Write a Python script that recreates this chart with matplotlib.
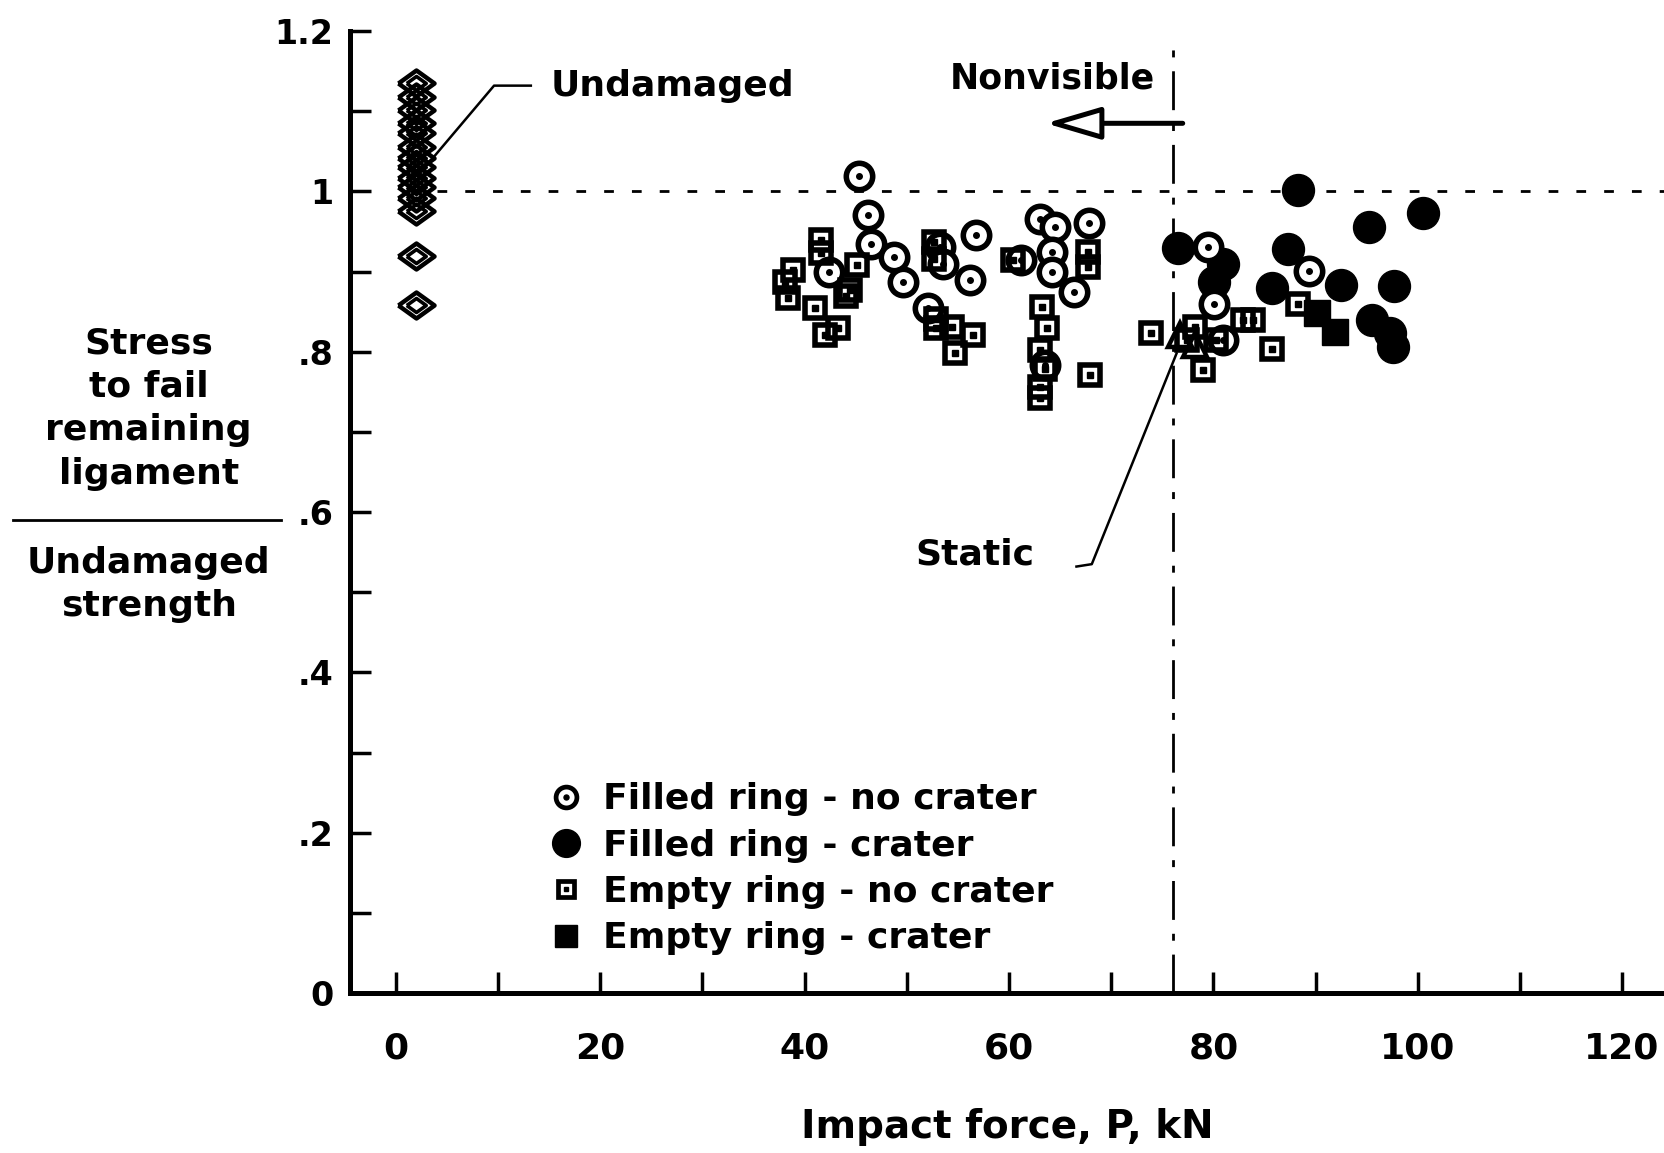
import matplotlib.pyplot as plt
from matplotlib.lines import Line2D
from matplotlib.ticker import MultipleLocator

# Undamaged specimens (plotted in a column near P = 2 kN)
undamaged_x = [2.0] * 14
undamaged_y = [1.135, 1.118, 1.101, 1.086, 1.073, 1.056, 1.042, 1.030,
               1.017, 1.005, 0.992, 0.976, 0.920, 0.858]

# Filled ring - no crater
fr_nc_x = [45.3, 46.2, 46.5, 42.4, 48.7, 49.6, 56.8, 53.2, 53.5, 56.2, 52.1,
           63.0, 64.5, 67.8, 64.2, 64.2, 66.4, 61.2, 63.5, 79.5, 80.1, 80.9, 89.4]
fr_nc_y = [1.019, 0.970, 0.935, 0.900, 0.918, 0.887, 0.946, 0.931, 0.910, 0.889, 0.854,
           0.966, 0.956, 0.960, 0.925, 0.900, 0.875, 0.914, 0.783, 0.931, 0.860, 0.815, 0.901]

# Filled ring - crater
fr_c_x = [76.5, 80.9, 80.1, 85.7, 88.3, 95.2, 100.5, 87.3, 92.5, 97.7, 95.5, 97.3, 97.6]
fr_c_y = [0.929, 0.910, 0.887, 0.879, 1.002, 0.956, 0.973, 0.928, 0.883, 0.882, 0.839, 0.823, 0.806]

# Empty ring - no crater
er_nc_x = [41.6, 41.6, 38.9, 38.1, 38.4, 45.1, 44.4, 44.0, 41.0, 42.0, 43.3,
           52.7, 52.7, 52.9, 52.9, 54.4, 56.5, 54.7,
           60.4, 67.7, 67.7, 63.2, 63.7, 63.0, 63.5, 63.0, 63.0, 67.9,
           73.9, 78.2, 82.9, 83.9, 80.3, 79.0, 85.7, 77.4, 88.3]
er_nc_y = [0.939, 0.923, 0.902, 0.887, 0.867, 0.908, 0.877, 0.869, 0.854, 0.821, 0.829,
           0.937, 0.916, 0.841, 0.829, 0.831, 0.821, 0.798,
           0.914, 0.925, 0.906, 0.856, 0.829, 0.802, 0.779, 0.756, 0.742, 0.771,
           0.823, 0.831, 0.839, 0.839, 0.815, 0.777, 0.804, 0.815, 0.859]

# Empty ring - crater
er_c_x = [90.1, 91.9]
er_c_y = [0.848, 0.825]

# Static tests
static_x = [76.7, 78.2]
static_y = [0.821, 0.808]

x_ticks = [0, 20, 40, 60, 80, 100, 120]
y_ticks = [0, 0.2, 0.4, 0.6, 0.8, 1.0, 1.2]
y_ticklabels = ['0', '.2', '.4', '.6', '.8', '1', '1.2']
threshold_p = 76   # nonvisible damage limit, kN

plt.rcParams['font.family'] = 'DejaVu Sans'
plt.rcParams['font.weight'] = 'bold'

fig = plt.figure(figsize=(16.65, 11.53), dpi=100)
ax = fig.add_axes([0.2102, 0.1388, 0.7898, 0.8342])
ax.set_xlim(-4.5, 124.2)
ax.set_ylim(0, 1.2)

for s in ['top', 'right']:
    ax.spines[s].set_visible(False)
for s in ['left', 'bottom']:
    ax.spines[s].set_linewidth(3.6)

ax.set_xticks(x_ticks)
ax.xaxis.set_minor_locator(MultipleLocator(10))
ax.set_yticks(y_ticks)
ax.set_yticklabels(y_ticklabels)
ax.yaxis.set_minor_locator(MultipleLocator(0.1))
ax.tick_params(which='both', direction='in', length=15, width=2.5)
ax.tick_params(axis='y', which='major', pad=12, labelsize=24)
ax.tick_params(axis='x', which='major', pad=28, labelsize=26)

# reference lines
ax.plot([4, 124.2], [1.0, 1.0], color='k', lw=2, ls=(0, (3.5, 6.5)), zorder=1)
ax.plot([threshold_p, threshold_p], [0, 1.19], color='k', lw=2,
        ls=(0, (14, 5, 2.5, 5)), zorder=1)

# undamaged: double diamonds
diamond = [(-1, 0), (0, 0.72), (1, 0), (0, -0.72), (-1, 0)]
ax.plot(undamaged_x, undamaged_y, ls='none', marker=diamond, ms=26,
        mfc='none', mec='k', mew=3.2, zorder=3)
ax.plot(undamaged_x, undamaged_y, ls='none', marker=diamond, ms=14,
        mfc='none', mec='k', mew=2.6, zorder=3)

# filled ring - crater
ax.plot(fr_c_x, fr_c_y, ls='none', marker='o', ms=23, color='k', zorder=3)
# filled ring - no crater
ax.plot(fr_nc_x, fr_nc_y, ls='none', marker='o', ms=19, mfc='white',
        mec='k', mew=4, zorder=4)
ax.plot(fr_nc_x, fr_nc_y, ls='none', marker='o', ms=4, color='k', zorder=4)
# empty ring - no crater
ax.plot(er_nc_x, er_nc_y, ls='none', marker='s', ms=15, mfc='none',
        mec='k', mew=4, zorder=5)
ax.plot(er_nc_x, er_nc_y, ls='none', marker='s', ms=3.8, color='k', zorder=5)
# empty ring - crater
ax.plot(er_c_x, er_c_y, ls='none', marker='s', ms=19, color='k', zorder=5)
# static
ax.plot(static_x, static_y, ls='none', marker='^', ms=17, mfc='none',
        mec='k', mew=3.2, zorder=6)

# annotations
ax.text(54.2, 1.129, 'Nonvisible', fontsize=25, ha='left', va='baseline')
ax.annotate('', xy=(63.6, 1.085), xytext=(77.0, 1.085),
            arrowprops=dict(arrowstyle='-|>,head_length=1.7,head_width=0.5',
                            mutation_scale=20, lw=3.6, fc='white', ec='k',
                            shrinkA=0, shrinkB=0))
ax.text(15.1, 1.119, 'Undamaged', fontsize=26, ha='left', va='baseline')
ax.plot([13.2, 9.6, 3.3], [1.132, 1.132, 1.037], color='k', lw=1.8, zorder=2)
ax.text(50.8, 0.534, 'Static', fontsize=26, ha='left', va='baseline')
ax.plot([66.6, 68.1, 76.4], [0.532, 0.535, 0.798], color='k', lw=1.8, zorder=2)

ax.set_xlabel('Impact force, P, kN', fontsize=28, fontweight='bold', labelpad=30)

# stacked y label with a fraction bar
top_lines = ['Stress', 'to fail', 'remaining', 'ligament']
bottom_lines = ['Undamaged', 'strength']
for i, t in enumerate(top_lines):
    fig.text(0.0893, 0.7050 - i * 0.0376, t, fontsize=26, ha='center',
             va='center_baseline')
for i, t in enumerate(bottom_lines):
    fig.text(0.0893, 0.5150 - i * 0.0376, t, fontsize=26, ha='center',
             va='center_baseline')
fig.add_artist(Line2D([0.0077, 0.169], [0.549, 0.549], color='k', lw=2,
                      transform=fig.transFigure))

# legend
h_fr_nc = (Line2D([], [], ls='none', marker='o', ms=15, mfc='white', mec='k', mew=3.4),
           Line2D([], [], ls='none', marker='o', ms=3.6, color='k'))
h_fr_c = Line2D([], [], ls='none', marker='o', ms=20, color='k')
h_er_nc = (Line2D([], [], ls='none', marker='s', ms=12, mfc='none', mec='k', mew=3.4),
           Line2D([], [], ls='none', marker='s', ms=3.4, color='k'))
h_er_c = Line2D([], [], ls='none', marker='s', ms=16, color='k')
ax.legend([h_fr_nc, h_fr_c, h_er_nc, h_er_c],
          ['Filled ring - no crater', 'Filled ring - crater',
           'Empty ring - no crater', 'Empty ring - crater'],
          loc='upper left', bbox_to_anchor=(0.329, 0.3214),
          bbox_transform=fig.transFigure, frameon=False, fontsize=26,
          handlelength=1.0, handletextpad=0.53, labelspacing=0.34,
          borderpad=0, borderaxespad=0)

plt.savefig('out.png', dpi=100)
